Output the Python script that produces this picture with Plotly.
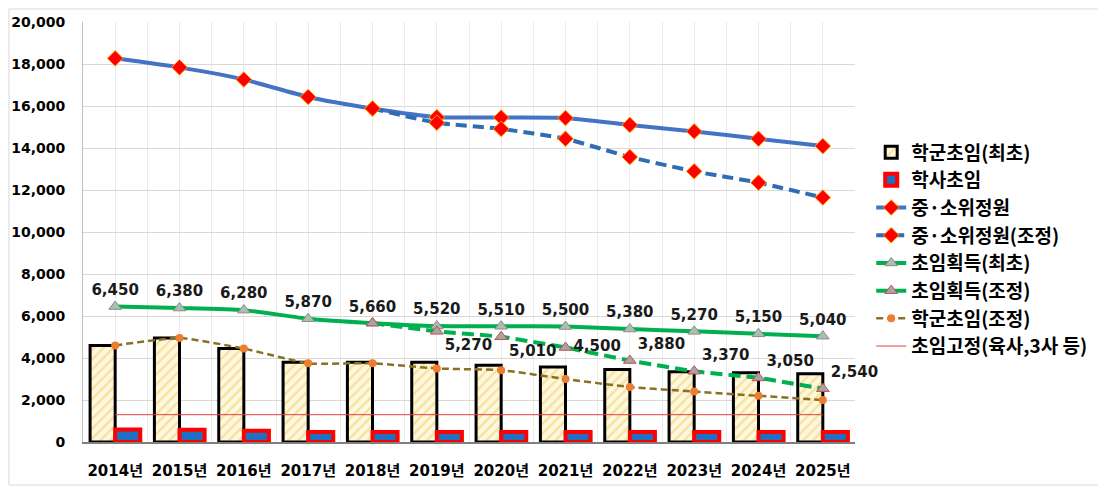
import plotly.graph_objects as go

years = ["2014년", "2015년", "2016년", "2017년", "2018년", "2019년",
         "2020년", "2021년", "2022년", "2023년", "2024년", "2025년"]
x = list(range(len(years)))

hakgun_first = [4600, 4950, 4450, 3800, 3800, 3800, 3650, 3570, 3450, 3350, 3300, 3250]
haksa = [600, 580, 540, 480, 480, 480, 480, 480, 480, 480, 480, 480]
quota = [18270, 17840, 17260, 16430, 15880, 15470, 15450, 15430, 15100, 14790, 14440, 14090]
quota_adj = [None, None, None, None, 15880, 15200, 14910, 14440, 13570, 12890, 12350, 11640]
gain_first = [6450, 6380, 6280, 5870, 5660, 5520, 5510, 5500, 5380, 5270, 5150, 5040]
gain_adj = [None, None, None, None, 5660, 5270, 5010, 4500, 3880, 3370, 3050, 2540]
hakgun_adj = [4600, 4950, 4450, 3750, 3750, 3500, 3420, 3000, 2620, 2400, 2200, 2000]
fixed = [1300] * 12

FONT = "DejaVu Sans, Noto Sans CJK KR"
KFONT = "Noto Sans CJK KR"

fig = go.Figure()

fig.add_trace(go.Bar(
    x=x, y=hakgun_first, name="학군초임(최초)", legendgroup="a",
    marker=dict(color="#FFF8E1",
                pattern=dict(shape="/", fgcolor="#F0CC5A", bgcolor="#FFF8E1", size=7, solidity=0.35),
                line=dict(color="#000000", width=3)),
))
fig.add_trace(go.Bar(
    x=x, y=haksa, name="학사초임", legendgroup="b",
    marker=dict(color="#1F6FC2", line=dict(color="#FF0000", width=4)),
))
fig.add_trace(go.Scatter(
    x=x, y=quota, name="중·소위정원", legendgroup="c", mode="lines+markers",
    line=dict(color="#4472C4", width=4, shape="spline", smoothing=0.5),
    marker=dict(symbol="diamond", size=12, color="#FF0000", line=dict(color="#FFA500", width=1)),
))
fig.add_trace(go.Scatter(
    x=x, y=quota_adj, name="중·소위정원(조정)", legendgroup="d", mode="lines+markers",
    line=dict(color="#2E6DB4", width=4, dash="11px,6px", shape="spline", smoothing=0.5),
    marker=dict(symbol="diamond", size=12, color="#FF0000", line=dict(color="#FFA500", width=1)),
))
fig.add_trace(go.Scatter(
    x=x, y=gain_first, name="초임획득(최초)", legendgroup="e", mode="lines+markers+text",
    line=dict(color="#00B050", width=4, shape="spline", smoothing=0.5),
    marker=dict(symbol="triangle-up", size=11, color="#A9BFB0", line=dict(color="#8C8C8C", width=1)),
    text=[f"{v:,}" for v in gain_first], textposition="top center", cliponaxis=False,
    textfont=dict(family=FONT, size=15, color="#1a1a1a", weight="bold"),
))
gain_adj_text = ["" if v is None or i == 4 else f"{v:,}" for i, v in enumerate(gain_adj)]
gain_adj_pos = (["top right"] * 5 + ["bottom right", "bottom right", "middle right"]
                + ["top right"] * 4)
fig.add_trace(go.Scatter(
    x=x, y=gain_adj, name="초임획득(조정)", legendgroup="f", mode="lines+markers+text",
    line=dict(color="#00B050", width=4, dash="12px,6px", shape="spline", smoothing=0.5),
    marker=dict(symbol="triangle-up", size=11, color="#A5A5A5", line=dict(color="#C0504D", width=1)),
    text=gain_adj_text, textposition=gain_adj_pos, cliponaxis=False,
    textfont=dict(family=FONT, size=15, color="#1a1a1a", weight="bold"),
))
fig.add_trace(go.Scatter(
    x=x, y=hakgun_adj, name="학군초임(조정)", legendgroup="g", mode="lines+markers",
    line=dict(color="#8B7022", width=2.5, dash="7px,4px", shape="spline", smoothing=0.5),
    marker=dict(symbol="circle", size=8, color="#ED7D31"),
))
fig.add_trace(go.Scatter(
    x=x, y=fixed, name="초임고정(육사,3사 등)", legendgroup="h", mode="lines",
    line=dict(color="#E0403A", width=1),
))

fig.update_layout(
    width=1106, height=486,
    margin=dict(l=75, r=259, t=14, b=52),
    paper_bgcolor="white", plot_bgcolor="white",
    barmode="group", bargap=0.22, bargroupgap=0,
    font=dict(family=FONT, color="#000000"),
    showlegend=True,
    legend=dict(x=1.021, y=0.735, xanchor="left", yanchor="top",
                font=dict(family=KFONT, size=19, color="#000000", weight="bold"),
                tracegroupgap=0, itemwidth=30, bgcolor="rgba(0,0,0,0)"),
    shapes=[dict(type="rect", xref="paper", yref="paper",
                 x0=-0.0959, x1=1.3238, y0=-0.1024, y1=1.031,
                 line=dict(color="#D9D9D9", width=1), layer="below")],
)
fig.update_xaxes(
    range=[-0.5, 11.5], tickmode="array", tickvals=x, ticktext=years,
    showgrid=True, gridcolor="#EBEBEB", gridwidth=1,
    minor=dict(tickmode="array", tickvals=[i + 0.5 for i in range(-1, 12)],
               showgrid=True, gridcolor="#EBEBEB", gridwidth=1),
    showline=True, linecolor="#7F7F7F", linewidth=1.5,
    ticks="", ticklabelstandoff=14, automargin=False,
    tickfont=dict(family=FONT, size=15, color="#000000", weight="bold"),
    zeroline=False,
)
fig.update_yaxes(
    range=[0, 20000], dtick=2000, tickformat=",",
    showgrid=True, gridcolor="#D9D9D9", gridwidth=1,
    showline=True, linecolor="#BFBFBF", linewidth=1,
    ticks="", ticklabelstandoff=14, automargin=False,
    tickfont=dict(family=FONT, size=14, color="#000000", weight="bold"),
    zeroline=False,
)

fig.write_html("out.html")
